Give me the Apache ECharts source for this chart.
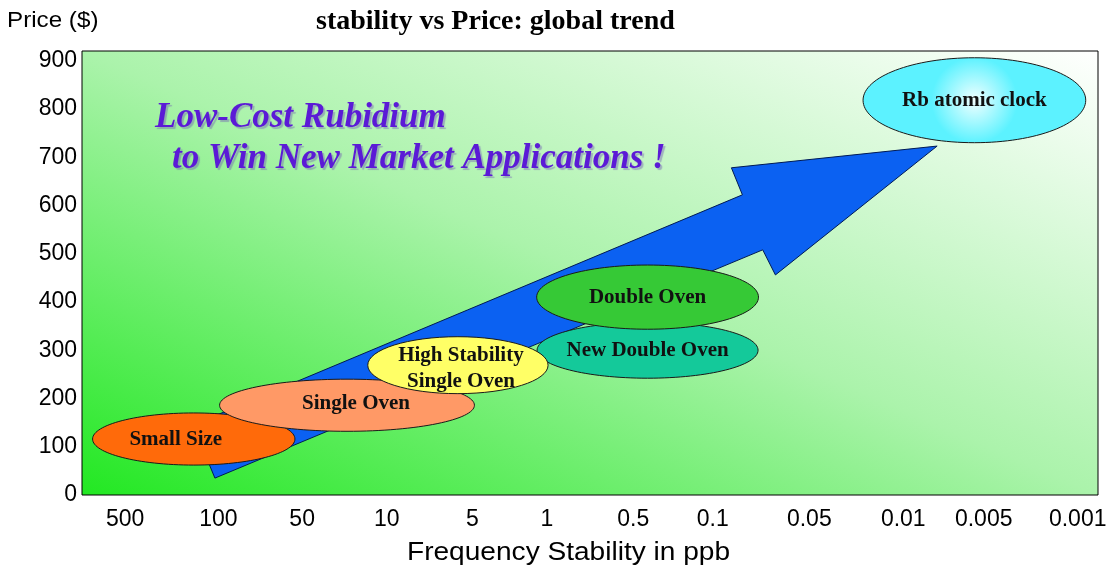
<!DOCTYPE html>
<html>
<head>
<meta charset="utf-8">
<script src="https://cdn.jsdelivr.net/npm/echarts@6/dist/echarts.min.js"></script>
<style>
  html, body { margin: 0; padding: 0; background: #fff; }
  #chart { width: 1114px; height: 572px; }
</style>
</head>
<body>
<div id="chart"></div>
<script>
// x axis: stability classes, placed along a 0..12 position scale
const stabilityLabels = ['500', '100', '50', '10', '5', '1', '0.5', '0.1', '0.05', '0.01', '0.005', '0.001'];
const stabilityPos = [0.51, 1.61, 2.60, 3.60, 4.61, 5.49, 6.51, 7.45, 8.59, 9.70, 10.65, 11.76];
const priceTicks = [0, 100, 200, 300, 400, 500, 600, 700, 800, 900];

// product families: centre (stability pos, price) and spread
const products = ['New Double Oven', 'Double Oven', 'Small Size', 'Single Oven', 'High Stability\nSingle Oven', 'Rb atomic clock'];
const prodStability = [6.68, 6.68, 1.32, 3.13, 4.44, 10.54];
const prodPrice = [300, 410, 116, 186, 269, 818];
const prodStabilitySpan = [2.61, 2.62, 2.39, 3.01, 2.13, 2.63];
const prodPriceSpan = [116, 133, 108, 108, 118, 176];

// trend arrow outline (stability pos, price)
const arrowStability = [1.57, 1.31, 7.80, 7.67, 10.10, 8.19, 8.04];
const arrowPrice = [35, 145, 622, 678, 723, 456, 508];

const prodColors = {
  'New Double Oven': '#14c99a',
  'Double Oven': '#36c936',
  'Small Size': '#ff6a0a',
  'Single Oven': '#ff9966',
  'High Stability\nSingle Oven': '#ffff66',
  'Rb atomic clock': {
    type: 'radial', x: 0.5, y: 0.5, r: 0.5,
    colorStops: [{ offset: 0, color: '#f0ffff' }, { offset: 1, color: '#5cf2ff' }]
  }
};
// small nudges of the label inside some ellipses (px)
const labelShift = { 'Small Size': [-18, 1], 'Single Oven': [9, -2], 'High Stability\nSingle Oven': [3, 3] };

const chart = echarts.init(document.getElementById('chart'));

const ellipseData = products.map((n, i) => ({
  name: n,
  value: [prodStability[i], prodPrice[i], prodStabilitySpan[i], prodPriceSpan[i]]
}));

const purple = {
  font: 'italic bold 35px "Liberation Serif"', fill: '#5b1ad6',
  textShadowColor: 'rgba(110,90,180,0.45)', textShadowOffsetX: 2, textShadowOffsetY: 2, textShadowBlur: 1
};

const option = {
  animation: false,
  grid: {
    left: 82, right: 16, top: 51, bottom: 77,
    show: true,
    borderColor: '#000',
    borderWidth: 1,
    backgroundColor: {
      type: 'linear', global: true,
      x: 82, y: 495, x2: 408, y2: -251,
      colorStops: [
        { offset: 0, color: '#22e822' },
        { offset: 0.5, color: '#abf3ab' },
        { offset: 1, color: '#ffffff' }
      ]
    }
  },
  xAxis: {
    type: 'value', min: 0, max: 12,
    axisLine: { show: false },
    axisTick: { show: false },
    splitLine: { show: false },
    axisLabel: {
      customValues: stabilityPos,
      margin: 13,
      fontFamily: 'Liberation Sans', fontSize: 23, color: '#000',
      formatter: v => {
        let best = 0;
        stabilityPos.forEach((p, i) => { if (Math.abs(p - v) < Math.abs(stabilityPos[best] - v)) best = i; });
        return stabilityLabels[best];
      }
    }
  },
  yAxis: {
    type: 'value', min: 0, max: 920,
    axisLine: { show: false },
    axisTick: { show: false },
    splitLine: { show: false },
    axisLabel: {
      customValues: priceTicks,
      margin: 5,
      fontFamily: 'Liberation Sans', fontSize: 23, color: '#000'
    }
  },
  graphic: [
    {
      type: 'text', x: 316, y: 8,
      style: { text: 'stability vs Price: global trend', font: 'bold 28px "Liberation Serif"', fill: '#000' }
    },
    { type: 'text', x: 7, y: 10, scaleX: 1.1, style: { text: 'Price ($)', font: '22px "Liberation Sans"', fill: '#000' } },
    { type: 'text', x: 407, y: 540, scaleX: 1.08, style: { text: 'Frequency Stability in ppb', font: '26px "Liberation Sans"', fill: '#000' } },
    { type: 'text', x: 155, y: 100, z: 5, style: Object.assign({ text: 'Low-Cost Rubidium' }, purple) },
    { type: 'text', x: 172, y: 141, z: 5, style: Object.assign({ text: 'to Win New Market Applications !' }, purple) }
  ],
  series: [
    {
      type: 'custom',
      name: 'trend',
      data: [[arrowStability[0], arrowPrice[0]]],
      renderItem: (params, api) => {
        const pts = arrowStability.map((x, i) => api.coord([x, arrowPrice[i]]));
        return {
          type: 'polygon',
          shape: { points: pts },
          style: { fill: '#0b61f2', stroke: '#001a55', lineWidth: 1 }
        };
      },
      z: 2
    },
    {
      type: 'custom',
      name: 'products',
      data: ellipseData,
      encode: { x: 0, y: 1 },
      renderItem: (params, api) => {
        const c = api.coord([api.value(0), api.value(1)]);
        const s = api.size([api.value(2), api.value(3)]);
        const name = products[params.dataIndex];
        const sh = labelShift[name] || [0, 0];
        return {
          type: 'group',
          children: [
            {
              type: 'ellipse',
              shape: { cx: c[0], cy: c[1], rx: s[0] / 2, ry: s[1] / 2 },
              style: { fill: prodColors[name], stroke: '#1a1a1a', lineWidth: 1 }
            },
            {
              type: 'text',
              x: c[0] + sh[0], y: c[1] + sh[1],
              style: {
                text: name, align: 'center', verticalAlign: 'middle',
                font: 'bold 21px "Liberation Serif"', fill: '#111', lineHeight: 26
              }
            }
          ]
        };
      },
      z: 3
    }
  ]
};

chart.setOption(option);
</script>
</body>
</html>
